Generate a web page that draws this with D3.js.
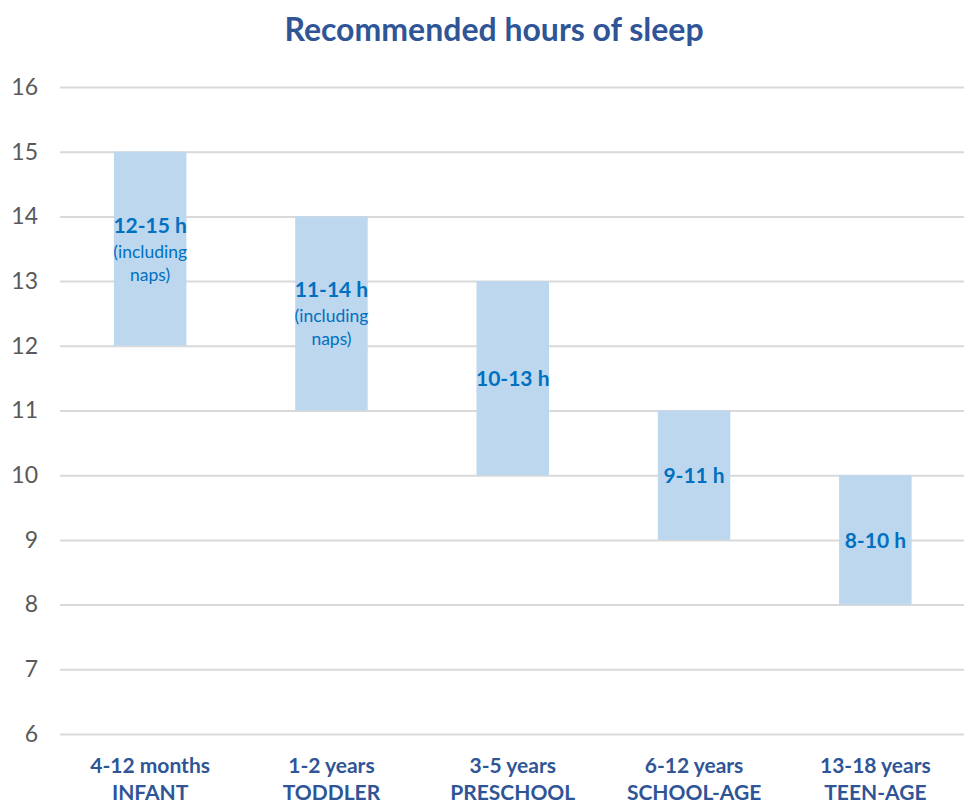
<!DOCTYPE html>
<html><head><meta charset="utf-8">
<script src="https://cdn.jsdelivr.net/npm/d3@7"></script>
<style>body{margin:0;background:#fff}svg{display:block}</style>
</head><body>
<svg id="c" width="964" height="805"></svg>
<script>
const categories = ["4-12 months","1-2 years","3-5 years","6-12 years","13-18 years"];
const stages = ["INFANT","TODDLER","PRESCHOOL","SCHOOL-AGE","TEEN-AGE"];
const lowValues = [12,11,10,9,8];
const highValues = [15,14,13,11,10];
const barLabels = ["12-15 h","11-14 h","10-13 h","9-11 h","8-10 h"];
const barNotes = ["(including naps)","(including naps)","","",""];
const yTicks = [6,7,8,9,10,11,12,13,14,15,16];
const title = "Recommended hours of sleep";

const font = "Lato, 'Open Sans', sans-serif";
const svg = d3.select("#c");
const x = d3.scaleBand().domain(categories).range([59.5,966]).paddingInner(0.6).paddingOuter(0.3);
const y = d3.scaleLinear().domain([6,16]).range([734,87]);

svg.append("text").attr("x",494).attr("y",41).attr("text-anchor","middle")
  .attr("font-family",font).attr("font-weight","bold").attr("font-size",32)
  .attr("fill","#2F5597").text(title);

const yAxis = d3.axisLeft(y).tickValues(yTicks).tickSize(-904).tickPadding(22).tickFormat(d3.format("d"));
const gy = svg.append("g").attr("transform","translate(60,0)").call(yAxis);
gy.select(".domain").remove();
gy.selectAll(".tick line").attr("stroke","#D9D9D9").attr("stroke-width",2);
gy.selectAll(".tick text").attr("font-family",font).attr("font-size",23).attr("fill","#595959");

const data = categories.map((c,i)=>({c,lo:lowValues[i],hi:highValues[i],lab:barLabels[i],note:barNotes[i],st:stages[i]}));

svg.append("g").selectAll("rect").data(data).join("rect")
  .attr("x",d=>x(d.c)).attr("width",x.bandwidth())
  .attr("y",d=>y(d.hi)).attr("height",d=>y(d.lo)-y(d.hi))
  .attr("fill","#BDD7EE");

const lg = svg.append("g").selectAll("g").data(data).join("g")
  .attr("transform",d=>`translate(${x(d.c)+x.bandwidth()/2},${y((d.lo+d.hi)/2)})`);
lg.append("text").attr("text-anchor","middle")
  .attr("y",d=>d.note? -16 : 8)
  .attr("font-family",font).attr("font-weight","bold").attr("font-size",21).attr("fill","#0070C0")
  .text(d=>d.lab);
lg.filter(d=>d.note).each(function(d){
  const words = d.note.split(" ");
  const t = d3.select(this).append("text").attr("text-anchor","middle")
    .attr("font-family",font).attr("font-size",17.5).attr("fill","#0070C0");
  words.forEach((w,i)=>t.append("tspan").attr("x",0).attr("y",9+i*23).text(w));
});

const xa = svg.append("g").selectAll("text").data(data).join("text")
  .attr("text-anchor","middle").attr("font-family",font).attr("font-weight","bold")
  .attr("font-size",21).attr("fill","#2F5597");
xa.append("tspan").attr("x",d=>x(d.c)+x.bandwidth()/2).attr("y",773).text(d=>d.c);
xa.append("tspan").attr("x",d=>x(d.c)+x.bandwidth()/2).attr("y",800).text(d=>d.st);
</script>
</body></html>
